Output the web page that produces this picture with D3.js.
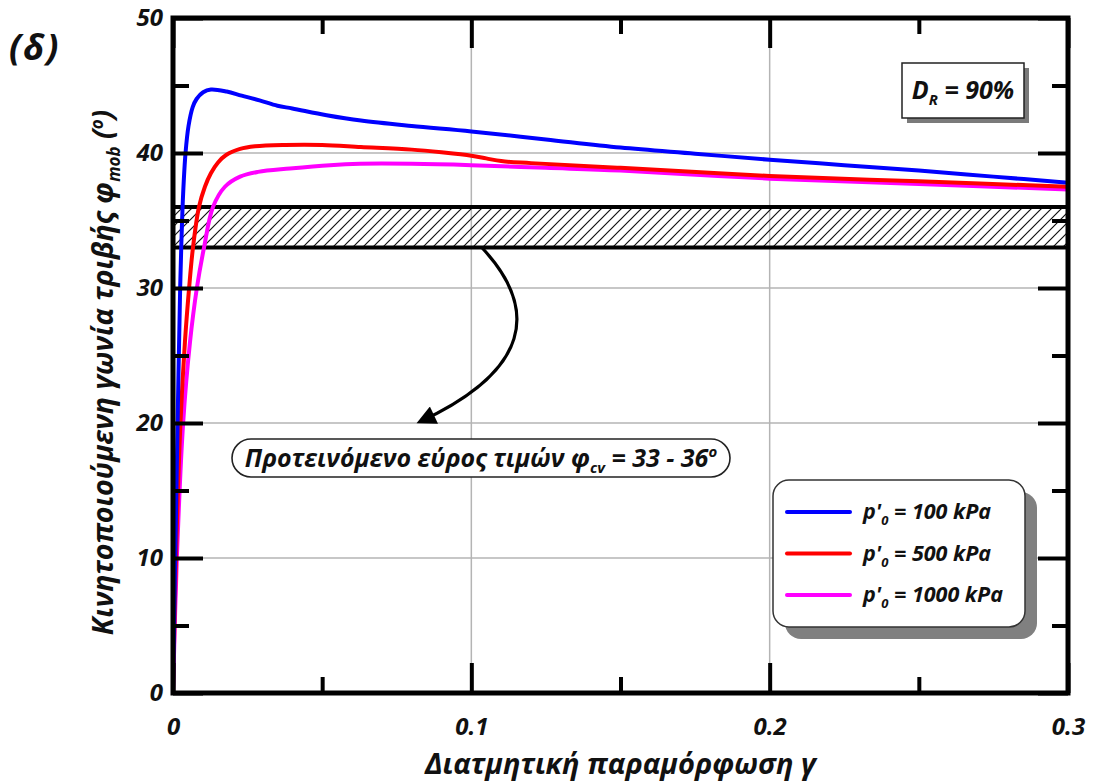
<!DOCTYPE html>
<html>
<head>
<meta charset="utf-8">
<script src="https://cdn.jsdelivr.net/npm/d3@7"></script>
<style>
  body { margin: 0; background: #fff; }
  svg text { font-family: "Open Sans", sans-serif; font-style: italic; font-weight: 700; fill: #111; }
</style>
</head>
<body>
<svg id="chart" width="1094" height="782"></svg>
<script>

// shear strain γ and mobilised friction angle φ_mob (deg)
const gamma100 = [0, 0.00074, 0.00154, 0.0024, 0.0029, 0.0034, 0.0042, 0.0052, 0.0066, 0.0079, 0.0101, 0.0127, 0.018, 0.023, 0.029, 0.035, 0.040, 0.0515, 0.063, 0.08, 0.1, 0.125, 0.15, 0.175, 0.2, 0.225, 0.25, 0.275, 0.3];
const phi100   = [0, 10, 20, 30, 34, 37, 40, 42, 43.4, 44.0, 44.5, 44.7, 44.55, 44.25, 43.9, 43.5, 43.3, 42.8, 42.4, 42.0, 41.6, 41.0, 40.4, 39.95, 39.5, 39.1, 38.7, 38.25, 37.8];

const gamma500 = [0, 0.0010, 0.0025, 0.0040, 0.0054, 0.0067, 0.0087, 0.0107, 0.0127, 0.0151, 0.0178, 0.0225, 0.0275, 0.0375, 0.05, 0.063, 0.08, 0.09, 0.1, 0.105, 0.11, 0.12, 0.15, 0.2, 0.25, 0.3];
const phi500   = [0, 10, 20, 26, 30, 33, 36, 37.5, 38.5, 39.3, 39.85, 40.3, 40.5, 40.6, 40.6, 40.45, 40.25, 40.05, 39.8, 39.6, 39.4, 39.25, 38.9, 38.3, 37.9, 37.5];

const gamma1000 = [0, 0.0013, 0.0034, 0.0057, 0.008, 0.0104, 0.0134, 0.0174, 0.0225, 0.0285, 0.0392, 0.0526, 0.0627, 0.08, 0.1, 0.125, 0.15, 0.2, 0.25, 0.3];
const phi1000   = [0, 10, 20, 26, 30, 33, 36, 37.5, 38.25, 38.6, 38.85, 39.1, 39.2, 39.2, 39.1, 38.9, 38.7, 38.1, 37.7, 37.3];

const seriesLabels = ["100", "500", "1000"];
const seriesColors = ["#0000ff", "#ff0000", "#ff00ff"];

// proposed φ_cv range
const phiCvRange = [33, 36];

// arrow from the band to the note, in data units [γ, φ]
const arrowPts = [[0.1035, 33], [0.123, 28.4], [0.1197, 23.9], [0.0828, 20.1]];

const xMajor = [0, 0.1, 0.2, 0.3];
const xMinor = [0.05, 0.15, 0.25];
const yMajor = [0, 10, 20, 30, 40, 50];
const yMinor = [5, 15, 25, 35, 45];
const xGrid = [0.1, 0.2];
const yGrid = [10, 20, 30, 40];

const pl = 173, pr = 1068, pt = 18, pb = 693;

const svg = d3.select("#chart");

const x = d3.scaleLinear().domain([0, 0.3]).range([pl, pr]);
const y = d3.scaleLinear().domain([0, 50]).range([pb, pt]);

const defs = svg.append("defs");
defs.append("clipPath").attr("id", "plotclip")
  .append("rect").attr("x", pl).attr("y", pt).attr("width", pr - pl).attr("height", pb - pt);

const hatch = defs.append("pattern").attr("id", "hatch")
  .attr("patternUnits", "userSpaceOnUse").attr("width", 10).attr("height", 10);
hatch.append("path")
  .attr("d", "M-2,2 L2,-2 M0,10 L10,0 M8,12 L12,8")
  .attr("stroke", "#111").attr("stroke-width", 1.2);

defs.append("marker").attr("id", "arrowhead")
  .attr("viewBox", "0 0 10 10").attr("refX", 8).attr("refY", 5)
  .attr("markerWidth", 7).attr("markerHeight", 6).attr("orient", "auto")
  .attr("markerUnits", "strokeWidth")
  .append("path").attr("d", "M0,0 L10,5 L0,10 z").attr("fill", "#000");

// grid
svg.append("g").selectAll("line").data(yGrid).enter().append("line")
  .attr("x1", pl).attr("x2", pr)
  .attr("y1", d => y(d)).attr("y2", d => y(d))
  .attr("stroke", "#b4b4b4").attr("stroke-width", 1.5);
svg.append("g").selectAll("line").data(xGrid).enter().append("line")
  .attr("x1", d => x(d)).attr("x2", d => x(d))
  .attr("y1", pt).attr("y2", pb)
  .attr("stroke", "#b4b4b4").attr("stroke-width", 1.5);

// hatched band
svg.append("rect")
  .attr("x", x(0)).attr("width", x(0.3) - x(0))
  .attr("y", y(phiCvRange[1])).attr("height", y(phiCvRange[0]) - y(phiCvRange[1]))
  .attr("fill", "url(#hatch)");
svg.append("g").selectAll("line").data(phiCvRange).enter().append("line")
  .attr("x1", pl).attr("x2", pr)
  .attr("y1", d => y(d)).attr("y2", d => y(d))
  .attr("stroke", "#000").attr("stroke-width", 4);

// curves
const series = [
  { g: gamma100, p: phi100 },
  { g: gamma500, p: phi500 },
  { g: gamma1000, p: phi1000 }
];
const line = d3.line().x(d => x(d[0])).y(d => y(d[1])).curve(d3.curveCatmullRom.alpha(0.5));
const curveG = svg.append("g").attr("clip-path", "url(#plotclip)");
// draw magenta first so blue sits on top
[2, 1, 0].forEach(i => {
  const pts = series[i].g.map((g, k) => [g, series[i].p[k]]);
  curveG.append("path").datum(pts)
    .attr("d", line)
    .attr("fill", "none")
    .attr("stroke", seriesColors[i])
    .attr("stroke-width", 4)
    .attr("stroke-linejoin", "round");
});

// arrow
const ap = arrowPts.map(d => [x(d[0]), y(d[1])]);
svg.append("path")
  .attr("d", `M${ap[0]} C${ap[1]} ${ap[2]} ${ap[3]}`)
  .attr("fill", "none").attr("stroke", "#000").attr("stroke-width", 3.2)
  .attr("marker-end", "url(#arrowhead)");

// axes with inward ticks
function styleAxis(g, lbl) {
  g.select(".domain").remove();
  g.selectAll(".tick line").attr("stroke", "#000").attr("stroke-width", 4);
  g.selectAll(".tick text").style("font-size", "24px").attr("fill", "#111");
  if (!lbl) g.selectAll(".tick text").remove();
}
const fmtX = d => d === 0 ? "0" : d3.format(".1f")(d);

svg.append("g").attr("transform", `translate(${pl},0)`)
  .call(d3.axisLeft(y).tickValues(yMajor).tickSize(-30).tickPadding(10).tickFormat(d3.format("d")))
  .call(g => styleAxis(g, true));
svg.append("g").attr("transform", `translate(${pl},0)`)
  .call(d3.axisLeft(y).tickValues(yMinor).tickSize(-16))
  .call(g => styleAxis(g, false));
svg.append("g").attr("transform", `translate(${pr},0)`)
  .call(d3.axisRight(y).tickValues(yMajor).tickSize(-30))
  .call(g => styleAxis(g, false));
svg.append("g").attr("transform", `translate(${pr},0)`)
  .call(d3.axisRight(y).tickValues(yMinor).tickSize(-16))
  .call(g => styleAxis(g, false));
svg.append("g").attr("transform", `translate(0,${pb})`)
  .call(d3.axisBottom(x).tickValues(xMajor).tickSize(-30).tickPadding(25).tickFormat(fmtX))
  .call(g => styleAxis(g, true));
svg.append("g").attr("transform", `translate(0,${pb})`)
  .call(d3.axisBottom(x).tickValues(xMinor).tickSize(-16))
  .call(g => styleAxis(g, false));
svg.append("g").attr("transform", `translate(0,${pt})`)
  .call(d3.axisTop(x).tickValues(xMajor).tickSize(-30))
  .call(g => styleAxis(g, false));
svg.append("g").attr("transform", `translate(0,${pt})`)
  .call(d3.axisTop(x).tickValues(xMinor).tickSize(-16))
  .call(g => styleAxis(g, false));

// frame
svg.append("rect")
  .attr("x", pl).attr("y", pt).attr("width", pr - pl).attr("height", pb - pt)
  .attr("fill", "none").attr("stroke", "#000").attr("stroke-width", 5);

// axis titles
svg.append("text")
  .attr("x", (pl + pr) / 2).attr("y", 774)
  .attr("text-anchor", "middle")
  .style("font-size", "29px")
  .text("Διατμητική παραμόρφωση γ");

const yt = svg.append("text")
  .attr("transform", `translate(113,${(pt + pb) / 2 + 17}) rotate(-90)`)
  .attr("text-anchor", "middle")
  .style("font-size", "28.5px");
yt.append("tspan").text("Κινητοποιούμενη γωνία τριβής φ");
yt.append("tspan").attr("dy", 7).style("font-size", "17px").text("mob");
yt.append("tspan").attr("dy", -7).text(" (");
yt.append("tspan").attr("dy", -10).style("font-size", "17px").text("o");
yt.append("tspan").attr("dy", 10).text(")");

// panel label
svg.append("text").attr("x", 9).attr("y", 60)
  .style("font-size", "36px").style("letter-spacing", "2px").text("(δ)");

// D_R box
const drG = svg.append("g");
drG.append("rect").attr("x", 907).attr("y", 68).attr("width", 122).attr("height", 55).attr("fill", "#7a7a7a");
drG.append("rect").attr("x", 902).attr("y", 63).attr("width", 122).attr("height", 55)
  .attr("fill", "#fff").attr("stroke", "#222").attr("stroke-width", 1.5);
const drT = drG.append("text").attr("x", 963).attr("y", 99).attr("text-anchor", "middle").style("font-size", "25px");
drT.append("tspan").text("D");
drT.append("tspan").attr("dy", 6).style("font-size", "15px").text("R");
drT.append("tspan").attr("dy", -6).text(" = 90%");

// note
const noteG = svg.append("g");
noteG.append("rect").attr("x", 232).attr("y", 439).attr("width", 498).attr("height", 38)
  .attr("rx", 19).attr("ry", 19)
  .attr("fill", "#fff").attr("stroke", "#222").attr("stroke-width", 1.6);
const nt = noteG.append("text").attr("x", 481).attr("y", 467).attr("text-anchor", "middle").style("font-size", "25px");
nt.append("tspan").text("Προτεινόμενο εύρος τιμών φ");
nt.append("tspan").attr("dy", 6).style("font-size", "15px").text("cv");
nt.append("tspan").attr("dy", -6).text(` = ${phiCvRange[0]} - ${phiCvRange[1]}`);
nt.append("tspan").attr("dy", -10).style("font-size", "15px").text("o");

// legend
const lg = svg.append("g");
lg.append("rect").attr("x", 785).attr("y", 492).attr("width", 252).attr("height", 147).attr("rx", 16).attr("fill", "#808080");
lg.append("rect").attr("x", 773).attr("y", 480).attr("width", 252).attr("height", 147).attr("rx", 16)
  .attr("fill", "#fff").attr("stroke", "#333").attr("stroke-width", 1.5);
const rows = lg.selectAll("g.row").data(seriesLabels).enter().append("g")
  .attr("class", "row")
  .attr("transform", (d, i) => `translate(787,${512 + i * 41.5})`);
rows.append("line").attr("x1", 0).attr("x2", 63)
  .attr("stroke", (d, i) => seriesColors[i]).attr("stroke-width", 4).attr("stroke-linecap", "round");
const rt = rows.append("text").attr("x", 76).attr("y", 7).style("font-size", "21.5px");
rt.append("tspan").text("p'");
rt.append("tspan").attr("dy", 6).style("font-size", "13px").text("0");
rt.append("tspan").attr("dy", -6).text(d => " = " + d + " kPa");

</script>
</body>
</html>
